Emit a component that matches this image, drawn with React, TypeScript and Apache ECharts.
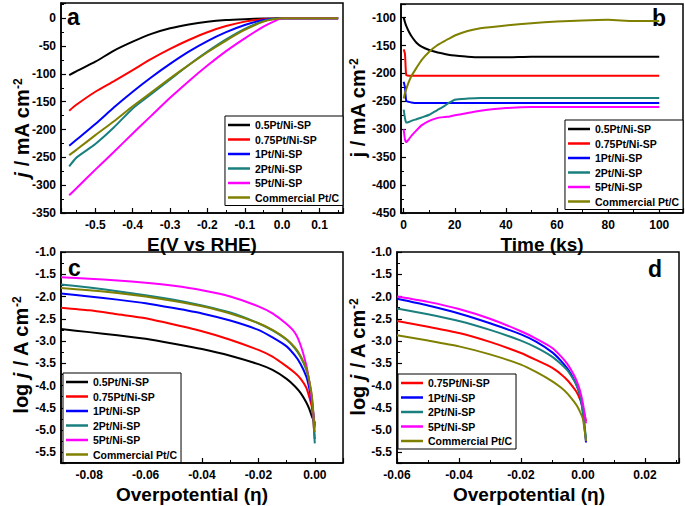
import React, { useEffect, useRef } from 'react';
import * as echarts from 'echarts';

const FONT = '"Liberation Sans", Arial, Helvetica, sans-serif';

const seriesNames = ['0.5Pt/Ni-SP', '0.75Pt/Ni-SP', '1Pt/Ni-SP', '2Pt/Ni-SP', '5Pt/Ni-SP', 'Commercial Pt/C'];
const seriesColors = ['#000000', '#ff0000', '#0000ff', '#1a7f7f', '#ff00ff', '#808000'];

// ---- panel a : LSV (E vs RHE, mA cm-2)
const lsvPotential = [-0.57, -0.55, -0.5, -0.45, -0.4, -0.35, -0.3, -0.25, -0.2, -0.15, -0.1, -0.05, -0.02, 0, 0.05, 0.1, 0.15];
const lsv05 = [-102, -95, -78, -58, -42, -28, -18, -11, -6, -3, -1.5, -0.5, -0.2, 0, 0, 0, 0];
const lsv075 = [-166, -155, -132, -113, -93, -73, -55, -39, -25, -14, -6, -1.5, -0.3, 0, 0, 0, 0];
const lsv1 = [-229, -218, -190, -160, -132, -106, -82, -60, -41, -25, -12, -3, -0.8, 0, 0, 0, 0];
const lsv2 = [-266, -250, -226, -196, -162, -136, -110, -84, -60, -38, -19, -5, -1, 0, 0, 0, 0];
const lsv5 = [-318, -305, -272, -240, -207, -175, -143, -113, -85, -59, -36, -15, -5, 0, 0, 0, 0];
const lsvPtC = [-246, -236, -210, -185, -158, -133, -108, -84, -61, -40, -21, -6, -1.5, 0, 0, 0, 0];

// ---- panel b : chronoamperometry (ks, mA cm-2)
const caTime = [0, 0.5, 1, 2, 3, 5, 7, 10, 13, 16, 18, 20, 25, 30, 40, 50, 60, 70, 80, 90, 100];
const ca05 = [-100, -108, -115, -125, -133, -145, -152, -158, -162, -165, -167, -168, -170, -171, -171, -170, -170, -170, -170, -170, -170];
const ca075 = [-157, -165, -203, -204, -204, -204, -204, -204, -204, -204, -204, -204, -204, -204, -204, -204, -204, -204, -204, -204, -204];
const ca1 = [-215, -225, -249, -251, -252, -253, -253, -253, -253, -253, -253, -253, -253, -253, -253, -253, -253, -253, -253, -253, -253];
const ca2 = [-265, -280, -288, -287, -285, -282, -279, -274, -266, -258, -252, -247, -245, -244, -244, -244, -244, -244, -244, -244, -244];
const ca5 = [-300, -318, -323, -318, -312, -302, -293, -285, -280, -278, -277, -275, -271, -267, -262, -260, -260, -260, -260, -260, -260];
const caPtC = [-245, -235, -228, -215, -205, -190, -176, -161, -150, -142, -137, -132, -124, -119, -114, -110, -107, -105, -104, -106, -106];

// ---- panel c : Tafel (overpotential, log j)
const tafelEtaC = [-0.09, -0.08, -0.07, -0.06, -0.05, -0.04, -0.03, -0.02, -0.015, -0.01, -0.007, -0.005, -0.003, -0.002, -0.001, 0];
const tafelC05 = [-2.73, -2.8, -2.87, -2.95, -3.06, -3.18, -3.33, -3.52, -3.65, -3.85, -4.02, -4.17, -4.38, -4.52, -4.7, -4.85];
const tafelC075 = [-2.25, -2.31, -2.4, -2.49, -2.63, -2.78, -2.97, -3.2, -3.35, -3.57, -3.72, -3.85, -4.05, -4.25, -4.5, -5.2];
const tafelC1 = [-1.93, -2.0, -2.07, -2.15, -2.26, -2.38, -2.54, -2.75, -2.92, -3.12, -3.33, -3.52, -3.8, -4.05, -4.4, -4.9];
const tafelC2 = [-1.73, -1.8, -1.88, -1.97, -2.07, -2.2, -2.36, -2.6, -2.76, -2.97, -3.17, -3.36, -3.65, -3.9, -4.3, -5.3];
const tafelC5 = [-1.57, -1.6, -1.64, -1.69, -1.76, -1.86, -2.0, -2.22, -2.38, -2.62, -2.82, -3.1, -3.55, -3.9, -4.35, -4.95];
const tafelCPtC = [-1.81, -1.86, -1.92, -2.0, -2.1, -2.22, -2.38, -2.6, -2.75, -2.96, -3.15, -3.34, -3.62, -3.88, -4.25, -5.05];

// ---- panel d : Tafel (overpotential, log j)
const tafelEtaD = [-0.06, -0.05, -0.04, -0.03, -0.02, -0.015, -0.01, -0.007, -0.005, -0.003, -0.002, -0.001, 0, 0.001];
const tafelD075 = [-2.55, -2.68, -2.82, -3.02, -3.27, -3.43, -3.6, -3.75, -3.88, -4.05, -4.15, -4.3, -4.5, -4.8];
const tafelD1 = [-2.05, -2.2, -2.38, -2.6, -2.85, -3.02, -3.25, -3.45, -3.62, -3.85, -4.0, -4.2, -4.6, -5.28];
const tafelD2 = [-2.27, -2.4, -2.55, -2.75, -2.99, -3.15, -3.35, -3.52, -3.66, -3.87, -4.0, -4.2, -4.6, -5.2];
const tafelD5 = [-2.0, -2.12, -2.28, -2.5, -2.78, -2.95, -3.15, -3.35, -3.52, -3.75, -3.9, -4.1, -4.4, -4.85];
const tafelDPtC = [-2.87, -2.99, -3.12, -3.3, -3.53, -3.7, -3.9, -4.05, -4.18, -4.35, -4.45, -4.58, -4.75, -5.25];

// ---- axis extents [min, max]
const aXExtent = [-0.592, 0.163];
const aYExtent = [-350, 27.5];
const bXExtent = [-1.05, 109.3];
const bYExtent = [-450, -75.6];
const cXExtent = [-0.09, 0.01];
const dXExtent = [-0.06, 0.031];
const logYExtent = [-5.74, -1.0];

const pairs = (xs: number[], ys: number[]) => xs.map((x, i) => [x, ys[i]]);

const panels = [
  {
    grid: { left: 61, top: 3, width: 282, height: 210 },
    x: { ext: aXExtent, split: 7, dec: 1, showMin: false, showMax: false },
    y: { ext: aYExtent, split: 7, dec: 0, showMin: true, showMax: false },
    xs: lsvPotential,
    data: [lsv05, lsv075, lsv1, lsv2, lsv5, lsvPtC],
    names: seriesNames,
    colors: seriesColors,
  },
  {
    grid: { left: 401, top: 4, width: 282, height: 209 },
    x: { ext: bXExtent, split: 7, dec: 0, showMin: false, showMax: false },
    y: { ext: bYExtent, split: 7, dec: 0, showMin: true, showMax: false },
    xs: caTime,
    data: [ca05, ca075, ca1, ca2, ca5, caPtC],
    names: seriesNames,
    colors: seriesColors,
  },
  {
    grid: { left: 61, top: 252, width: 282, height: 211 },
    x: { ext: cXExtent, split: 5, dec: 2, showMin: false, showMax: false },
    y: { ext: logYExtent, split: 9, dec: 1, showMin: false, showMax: true },
    xs: tafelEtaC,
    data: [tafelC05, tafelC075, tafelC1, tafelC2, tafelC5, tafelCPtC],
    names: seriesNames,
    colors: seriesColors,
  },
  {
    grid: { left: 397, top: 252, width: 282, height: 211 },
    x: { ext: dXExtent, split: 5, dec: 2, showMin: true, showMax: false },
    y: { ext: logYExtent, split: 9, dec: 1, showMin: false, showMax: true },
    xs: tafelEtaD,
    data: [tafelD075, tafelD1, tafelD2, tafelD5, tafelDPtC],
    names: seriesNames.slice(1),
    colors: seriesColors.slice(1),
  },
];

const legendPos = [
  { right: 342, top: 116 },
  { right: 2, top: 120 },
  { left: 63, top: 373 },
  { left: 398, top: 374 },
];

function fmt(dec: number) {
  return (v: number) => {
    const val = Math.abs(v) < 1e-9 ? 0 : v;
    return val.toFixed(dec);
  };
}

function makeAxes(isY: boolean) {
  return panels.map((p, gi) => {
    const ax = isY ? p.y : p.x;
    return {
      type: 'value',
      gridIndex: gi,
      min: ax.ext[0],
      max: ax.ext[1],
      splitNumber: ax.split,
      position: isY ? 'left' : 'bottom',
      z: 3,
      axisLine: { show: true, onZero: false, lineStyle: { color: '#000', width: 1.5 } },
      axisTick: { show: true, inside: true, length: 5, lineStyle: { color: '#000', width: 1.2 } },
      minorTick: { show: true, splitNumber: 2, length: 3, lineStyle: { color: '#000', width: 1 } },
      axisLabel: {
        show: true,
        formatter: fmt(ax.dec),
        showMinLabel: ax.showMin,
        showMaxLabel: ax.showMax,
        color: '#000',
        fontFamily: FONT,
        fontWeight: 'bold',
        fontSize: 12,
        margin: isY ? 5 : 6,
      },
      splitLine: { show: false },
      minorSplitLine: { show: false },
    };
  });
}

const titleStyle = (text: string, size: number) => ({
  text,
  fontFamily: FONT,
  fontWeight: 'bold',
  fontSize: size,
  fill: '#000',
});

const supRich = (size: number) => ({
  i: { fontStyle: 'italic', fontFamily: FONT, fontWeight: 'bold', fontSize: size },
  n: { fontFamily: FONT, fontWeight: 'bold', fontSize: size },
  s: { fontFamily: FONT, fontWeight: 'bold', fontSize: 12, verticalAlign: 'top' },
});

function buildOption() {
  const series: any[] = [];
  panels.forEach((p, gi) => {
    p.data.forEach((ys, k) => {
      series.push({
        type: 'line',
        name: p.names[k],
        xAxisIndex: gi,
        yAxisIndex: gi,
        data: pairs(p.xs, ys),
        showSymbol: false,
        symbol: 'none',
        clip: true,
        smooth: 0.2,
        lineStyle: { color: p.colors[k], width: 2 },
        itemStyle: { color: p.colors[k] },
      });
    });
  });

  const legends = panels.map((p, gi) => ({
    orient: 'vertical',
    ...legendPos[gi],
    data: p.names,
    selectedMode: false,
    icon: 'rect',
    itemWidth: 22,
    itemHeight: 2.5,
    itemGap: 2.5,
    backgroundColor: '#ffffff',
    borderColor: '#000',
    borderWidth: 1,
    padding: [3, 4, 2, 3],
    textStyle: { fontFamily: FONT, fontWeight: 'bold', fontSize: 10.5, color: '#000', lineHeight: 12 },
  }));

  const graphic: any[] = [
    { type: 'text', left: 67, top: 5, style: titleStyle('a', 23) },
    { type: 'text', left: 652, top: 6, style: titleStyle('b', 23) },
    { type: 'text', left: 68, top: 256, style: titleStyle('c', 23) },
    { type: 'text', left: 648, top: 257, style: titleStyle('d', 23) },
    { type: 'text', x: 202, y: 244, style: { ...titleStyle('E(V vs RHE)', 19), textAlign: 'center', textVerticalAlign: 'middle' } },
    { type: 'text', x: 542, y: 244, style: { ...titleStyle('Time (ks)', 19), textAlign: 'center', textVerticalAlign: 'middle' } },
    { type: 'text', x: 192, y: 494, style: { ...titleStyle('Overpotential (η)', 19), textAlign: 'center', textVerticalAlign: 'middle' } },
    { type: 'text', x: 529, y: 494, style: { ...titleStyle('Overpotential (η)', 19), textAlign: 'center', textVerticalAlign: 'middle' } },
    {
      type: 'text', x: 22, y: 128, rotation: Math.PI / 2,
      style: { text: '{i|j}{n| / mA cm}{s|-2}', rich: supRich(20), fill: '#000', textAlign: 'center', textVerticalAlign: 'middle', fontFamily: FONT, fontWeight: 'bold', fontSize: 20 },
    },
    {
      type: 'text', x: 358, y: 108, rotation: Math.PI / 2,
      style: { text: '{n|j / mA cm}{s|-2}', rich: supRich(20), fill: '#000', textAlign: 'center', textVerticalAlign: 'middle', fontFamily: FONT, fontWeight: 'bold', fontSize: 20 },
    },
    {
      type: 'text', x: 21, y: 355, rotation: Math.PI / 2,
      style: { text: '{n|log }{i|j}{n| / A cm}{s|-2}', rich: supRich(20), fill: '#000', textAlign: 'center', textVerticalAlign: 'middle', fontFamily: FONT, fontWeight: 'bold', fontSize: 20 },
    },
    {
      type: 'text', x: 358, y: 357, rotation: Math.PI / 2,
      style: { text: '{n|log }{i|j}{n| / A cm}{s|-2}', rich: supRich(20), fill: '#000', textAlign: 'center', textVerticalAlign: 'middle', fontFamily: FONT, fontWeight: 'bold', fontSize: 20 },
    },
  ];

  return {
    animation: false,
    title: { text: '', show: true },
    grid: panels.map((p) => ({ ...p.grid, show: true, z: 3, borderColor: '#000', borderWidth: 1.5, backgroundColor: 'transparent' })),
    xAxis: makeAxes(false),
    yAxis: makeAxes(true),
    legend: legends,
    series,
    graphic,
  };
}

export default function App() {
  const ref = useRef<HTMLDivElement>(null);
  useEffect(() => {
    if (!ref.current) return;
    const chart = echarts.init(ref.current, undefined, { renderer: 'svg' });
    chart.setOption(buildOption() as any);
    return () => chart.dispose();
  }, []);
  return <div ref={ref} style={{ position: 'absolute', left: 0, top: 0, width: 685, height: 506 }} />;
}
